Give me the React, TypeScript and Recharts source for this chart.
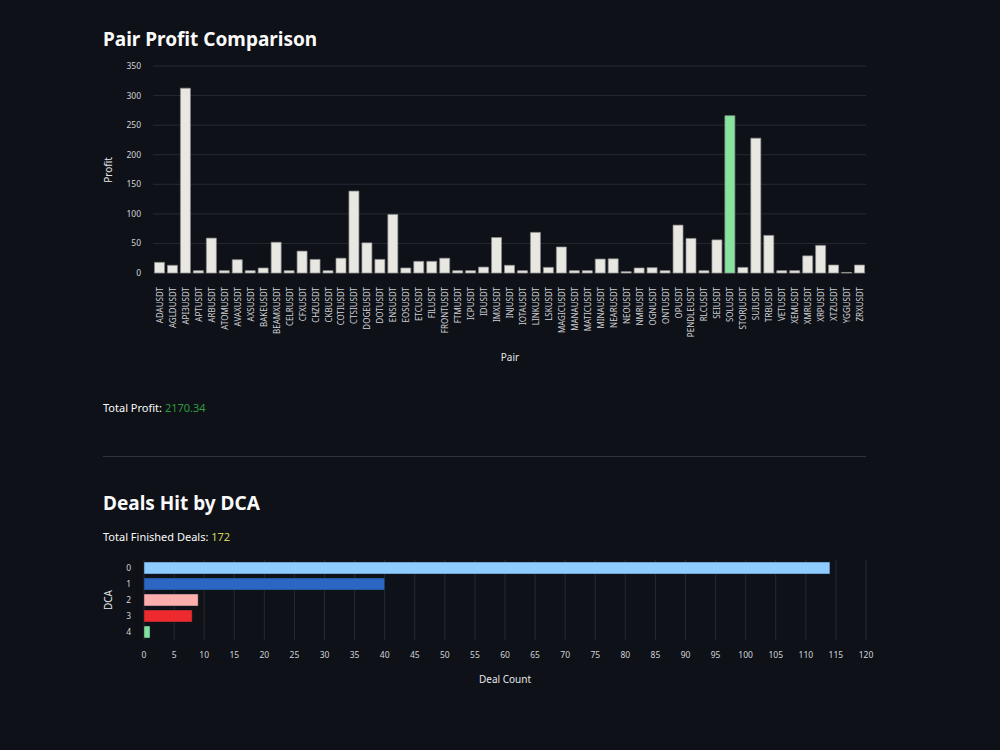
import React from 'react';
import { BarChart, Bar, XAxis, YAxis, CartesianGrid, Cell } from 'recharts';

const pairs = [
  'ADAUSDT', 'AGLDUSDT', 'API3USDT', 'APTUSDT', 'ARBUSDT', 'ATOMUSDT', 'AVAXUSDT', 'AXSUSDT', 'BAKEUSDT', 'BEAMXUSDT',
  'CELRUSDT', 'CFXUSDT', 'CHZUSDT', 'CKBUSDT', 'COTIUSDT', 'CTSIUSDT', 'DOGEUSDT', 'DOTUSDT', 'ENSUSDT', 'EOSUSDT',
  'ETCUSDT', 'FILUSDT', 'FRONTUSDT', 'FTMUSDT', 'ICPUSDT', 'IDUSDT', 'IMXUSDT', 'INJUSDT', 'IOTAUSDT', 'LINKUSDT',
  'LSKUSDT', 'MAGICUSDT', 'MANAUSDT', 'MATICUSDT', 'MINAUSDT', 'NEARUSDT', 'NEOUSDT', 'NMRUSDT', 'OGNUSDT', 'ONTUSDT',
  'OPUSDT', 'PENDLEUSDT', 'RLCUSDT', 'SEIUSDT', 'SOLUSDT', 'STORJUSDT', 'SUIUSDT', 'TRBUSDT', 'VETUSDT', 'XEMUSDT',
  'XMRUSDT', 'XRPUSDT', 'XTZUSDT', 'YGGUSDT', 'ZRXUSDT',
];

const profits = [
  18, 13, 312.5, 4, 59, 4, 22.5, 4, 8.5, 52,
  4, 37, 23, 4, 25, 138.5, 51, 23, 99, 8.5,
  19.7, 19.7, 25, 4, 4, 10, 60, 13, 4, 68.7,
  9.5, 44, 4, 4, 23.6, 24, 2.3, 8.5, 9, 4,
  81, 58.5, 4, 56, 266, 9.5, 228, 63.6, 4, 4,
  29, 46.7, 13.5, 1, 13.5,
];

const highlightPair = 'SOLUSDT';
const profitTicks = [0, 50, 100, 150, 200, 250, 300, 350];

const dcaLevels = ['0', '1', '2', '3', '4'];
const dealCounts = [114, 40, 9, 8, 1];
const dcaColors = ['#8ecbff', '#2a66c2', '#ffadad', '#ef2a2e', '#85e0a0'];
const dealTicks = [0, 5, 10, 15, 20, 25, 30, 35, 40, 45, 50, 55, 60, 65, 70, 75, 80, 85, 90, 95, 100, 105, 110, 115, 120];

const totalProfit = '2170.34';
const totalDeals = '172';

const profitData = pairs.map((p, i) => ({ pair: p, profit: profits[i] }));
const dcaData = dcaLevels.map((d, i) => ({ dca: d, count: dealCounts[i] }));

const BG = '#0e1117';
const GRID = '#262a33';
const TICK = '#d2d3d7';
const FONT = '"Noto Sans", sans-serif';

const PairTick = (props: any) => {
  const { x, y, payload } = props;
  return (
    <text
      transform={`translate(${x},${y}) rotate(-90)`}
      textAnchor="end"
      dominantBaseline="central"
      fontSize={8}
      fill={TICK}
      fontFamily={FONT}
    >
      {payload.value}
    </text>
  );
};

export default function App() {
  return (
    <div
      style={{
        position: 'absolute',
        left: 0,
        top: 0,
        width: 1000,
        height: 750,
        background: BG,
        fontFamily: FONT,
        color: '#fafafa',
        overflow: 'hidden',
      }}
    >
      <div style={{ position: 'absolute', left: 103, top: 27, fontSize: 19, lineHeight: '24px', fontWeight: 700 }}>
        Pair Profit Comparison
      </div>

      <div style={{ position: 'absolute', left: 0, top: 0 }}>
        <BarChart
          width={1000}
          height={380}
          data={profitData}
          margin={{ top: 66, right: 134, left: 0, bottom: 27 }}
          barCategoryGap="11.5%"
        >
          <CartesianGrid vertical={false} stroke={GRID} strokeWidth={1} />
          <XAxis
            dataKey="pair"
            type="category"
            interval={0}
            height={80}
            axisLine={false}
            tickLine={false}
            tickSize={0}
            tickMargin={14}
            tick={<PairTick />}
          />
          <YAxis
            type="number"
            domain={[0, 350]}
            ticks={profitTicks}
            width={153}
            axisLine={false}
            tickLine={false}
            tickSize={0}
            tickMargin={12}
            tick={{ fill: TICK, fontSize: 8.5, fontFamily: FONT }}
          />
          <Bar dataKey="profit" isAnimationActive={false} stroke="rgba(140,140,140,0.7)" strokeWidth={1}>
            {profitData.map((d) => (
              <Cell key={d.pair} fill={d.pair === highlightPair ? '#86e49f' : '#e9e7e2'} />
            ))}
          </Bar>
        </BarChart>
      </div>

      <div style={{ position: 'absolute', left: 103, top: 401, fontSize: 11, lineHeight: '14px' }}>
        Total Profit: <span style={{ color: '#2f9a3f' }}>{totalProfit}</span>
      </div>

      <div style={{ position: 'absolute', left: 103, top: 456, width: 763, height: 1, background: '#30333b' }} />

      <div style={{ position: 'absolute', left: 103, top: 491, fontSize: 19, lineHeight: '24px', fontWeight: 700 }}>
        Deals Hit by DCA
      </div>

      <div style={{ position: 'absolute', left: 103, top: 530, fontSize: 11, lineHeight: '14px' }}>
        Total Finished Deals: <span style={{ color: '#d6d65e' }}>{totalDeals}</span>
      </div>

      <div style={{ position: 'absolute', left: 0, top: 540 }}>
        <BarChart
          width={1000}
          height={160}
          data={dcaData}
          layout="vertical"
          margin={{ top: 20, right: 134, left: 0, bottom: 30 }}
          barCategoryGap="12.5%"
        >
          <CartesianGrid horizontal={false} stroke={GRID} strokeWidth={1} />
          <XAxis
            type="number"
            domain={[0, 120]}
            ticks={dealTicks}
            interval={0}
            height={30}
            axisLine={false}
            tickLine={false}
            tickSize={0}
            tickMargin={12}
            tick={{ fill: TICK, fontSize: 8.5, fontFamily: FONT }}
          />
          <YAxis
            type="category"
            dataKey="dca"
            width={144}
            axisLine={false}
            tickLine={false}
            tickSize={0}
            tickMargin={13}
            tick={{ fill: TICK, fontSize: 8.5, fontFamily: FONT }}
          />
          <Bar dataKey="count" isAnimationActive={false} stroke="rgba(20,30,50,0.45)" strokeWidth={1}>
            {dcaData.map((d, i) => (
              <Cell key={d.dca} fill={dcaColors[i]} />
            ))}
          </Bar>
        </BarChart>
      </div>

      <svg
        width={1000}
        height={750}
        style={{ position: 'absolute', left: 0, top: 0, pointerEvents: 'none' }}
      >
        <text x={108} y={170} transform="rotate(-90 108 170)" textAnchor="middle" dominantBaseline="central" fontSize={10} fill="#e6e6e8" fontFamily={FONT}>
          Profit
        </text>
        <text x={510} y={357} textAnchor="middle" dominantBaseline="central" fontSize={10} fill="#e6e6e8" fontFamily={FONT}>
          Pair
        </text>
        <text x={108} y={600} transform="rotate(-90 108 600)" textAnchor="middle" dominantBaseline="central" fontSize={10} fill="#e6e6e8" fontFamily={FONT}>
          DCA
        </text>
        <text x={505} y={679} textAnchor="middle" dominantBaseline="central" fontSize={10} fill="#e6e6e8" fontFamily={FONT}>
          Deal Count
        </text>
      </svg>
    </div>
  );
}
